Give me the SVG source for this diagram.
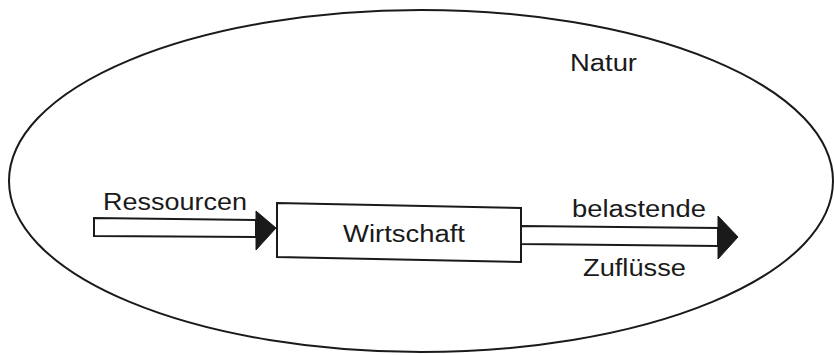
<svg xmlns="http://www.w3.org/2000/svg" width="834" height="355" viewBox="0 0 834 355">
<style>
.ln{fill:none;stroke:#1a1a1a;stroke-width:2;stroke-linejoin:round}
.bx{fill:#fff;stroke:#1a1a1a;stroke-width:2}
.hd{fill:#1a1a1a;stroke:#1a1a1a;stroke-width:1}
.t{font-family:"Liberation Sans",Arial,sans-serif;font-size:23px;fill:#1a1a1a}
</style>
<rect width="834" height="355" fill="#fff"/>
<g id="natur">
<ellipse cx="421" cy="181" rx="412" ry="171" class="ln"/>
<text class="t" x="570" y="71" textLength="67" lengthAdjust="spacingAndGlyphs">Natur</text>
</g>
<g id="connectors">
<g id="ressourcen">
<polygon class="bx" points="94,218 256,220 256,237 94,236"/>
<polygon class="hd" points="256,211 276,228 256,250"/>
<text class="t" x="103" y="210" textLength="144" lengthAdjust="spacingAndGlyphs">Ressourcen</text>
</g>
<g id="zufluesse">
<polygon class="bx" points="521,226 718,228 718,246 521,244"/>
<polygon class="hd" points="718,216 738,237 718,259"/>
<text class="t" x="572" y="217" textLength="134" lengthAdjust="spacingAndGlyphs">belastende</text>
<text class="t" x="583" y="276" textLength="103" lengthAdjust="spacingAndGlyphs">Zuflüsse</text>
</g>
</g>
<g id="wirtschaft">
<polygon class="bx" points="277,203 521,208 521,262 277,257"/>
<text class="t" x="343" y="242" textLength="122" lengthAdjust="spacingAndGlyphs">Wirtschaft</text>
</g>
</svg>
